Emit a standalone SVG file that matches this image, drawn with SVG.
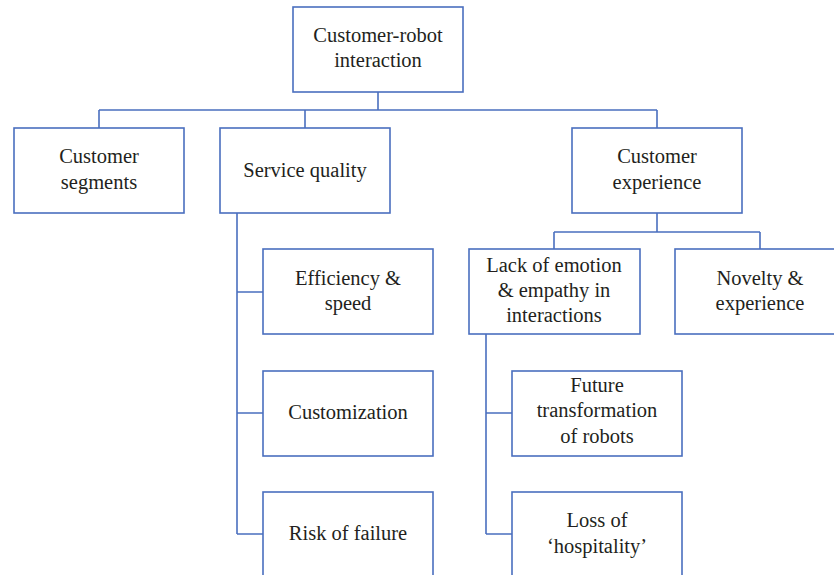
<svg xmlns="http://www.w3.org/2000/svg" width="834" height="575" viewBox="0 0 834 575">
  <style>
    .box { fill: #ffffff; stroke: #4a6fbf; stroke-width: 1.6; }
    .link { fill: none; stroke: #4a6fbf; stroke-width: 1.6; }
    .lbl { font-family: "Liberation Serif", "Times New Roman", serif; font-size: 20.5px; fill: #231f20; text-anchor: middle; }
  </style>
  <rect width="834" height="575" fill="#ffffff"/>

  <g id="connectors">
    <!-- root to first level -->
    <path class="link" d="M378,92 V110 M99,110 H657 M99,110 V128 M305,110 V128 M657,110 V128"/>
    <!-- service quality branch -->
    <path class="link" d="M237,213 V534 M237,292 H263 M237,413 H263 M237,534 H263"/>
    <!-- customer experience branch -->
    <path class="link" d="M657,213 V232 M554,232 H760 M554,232 V249 M760,232 V249"/>
    <!-- lack of emotion branch -->
    <path class="link" d="M486,334 V534 M486,413 H512 M486,534 H512"/>
  </g>

  <g id="root">
    <rect class="box" x="293" y="7" width="170" height="85"/>
    <text class="lbl" x="378" y="42">Customer-robot</text>
    <text class="lbl" x="378" y="67">interaction</text>
  </g>

  <g id="customer-segments">
    <rect class="box" x="14" y="128" width="170" height="85"/>
    <text class="lbl" x="99" y="163">Customer</text>
    <text class="lbl" x="99" y="189">segments</text>
  </g>

  <g id="service-quality">
    <rect class="box" x="220" y="128" width="170" height="85"/>
    <text class="lbl" x="305" y="177">Service quality</text>
  </g>

  <g id="customer-experience">
    <rect class="box" x="572" y="128" width="170" height="85"/>
    <text class="lbl" x="657" y="163">Customer</text>
    <text class="lbl" x="657" y="189">experience</text>
  </g>

  <g id="efficiency">
    <rect class="box" x="263" y="249" width="170" height="85"/>
    <text class="lbl" x="348" y="285">Efficiency &amp;</text>
    <text class="lbl" x="348" y="310">speed</text>
  </g>

  <g id="customization">
    <rect class="box" x="263" y="371" width="170" height="85"/>
    <text class="lbl" x="348" y="419">Customization</text>
  </g>

  <g id="risk-of-failure">
    <rect class="box" x="263" y="492" width="170" height="100"/>
    <text class="lbl" x="348" y="540">Risk of failure</text>
  </g>

  <g id="lack-of-emotion">
    <rect class="box" x="469" y="249" width="171" height="85"/>
    <text class="lbl" x="554" y="272">Lack of emotion</text>
    <text class="lbl" x="554" y="297">&amp; empathy in</text>
    <text class="lbl" x="554" y="322">interactions</text>
  </g>

  <g id="novelty">
    <rect class="box" x="675" y="249" width="170" height="85"/>
    <text class="lbl" x="760" y="285">Novelty &amp;</text>
    <text class="lbl" x="760" y="310">experience</text>
  </g>

  <g id="future-transformation">
    <rect class="box" x="512" y="371" width="170" height="85"/>
    <text class="lbl" x="597" y="392">Future</text>
    <text class="lbl" x="597" y="417">transformation</text>
    <text class="lbl" x="597" y="443">of robots</text>
  </g>

  <g id="loss-of-hospitality">
    <rect class="box" x="512" y="492" width="170" height="100"/>
    <text class="lbl" x="597" y="527">Loss of</text>
    <text class="lbl" x="597" y="553">‘hospitality’</text>
  </g>
</svg>
